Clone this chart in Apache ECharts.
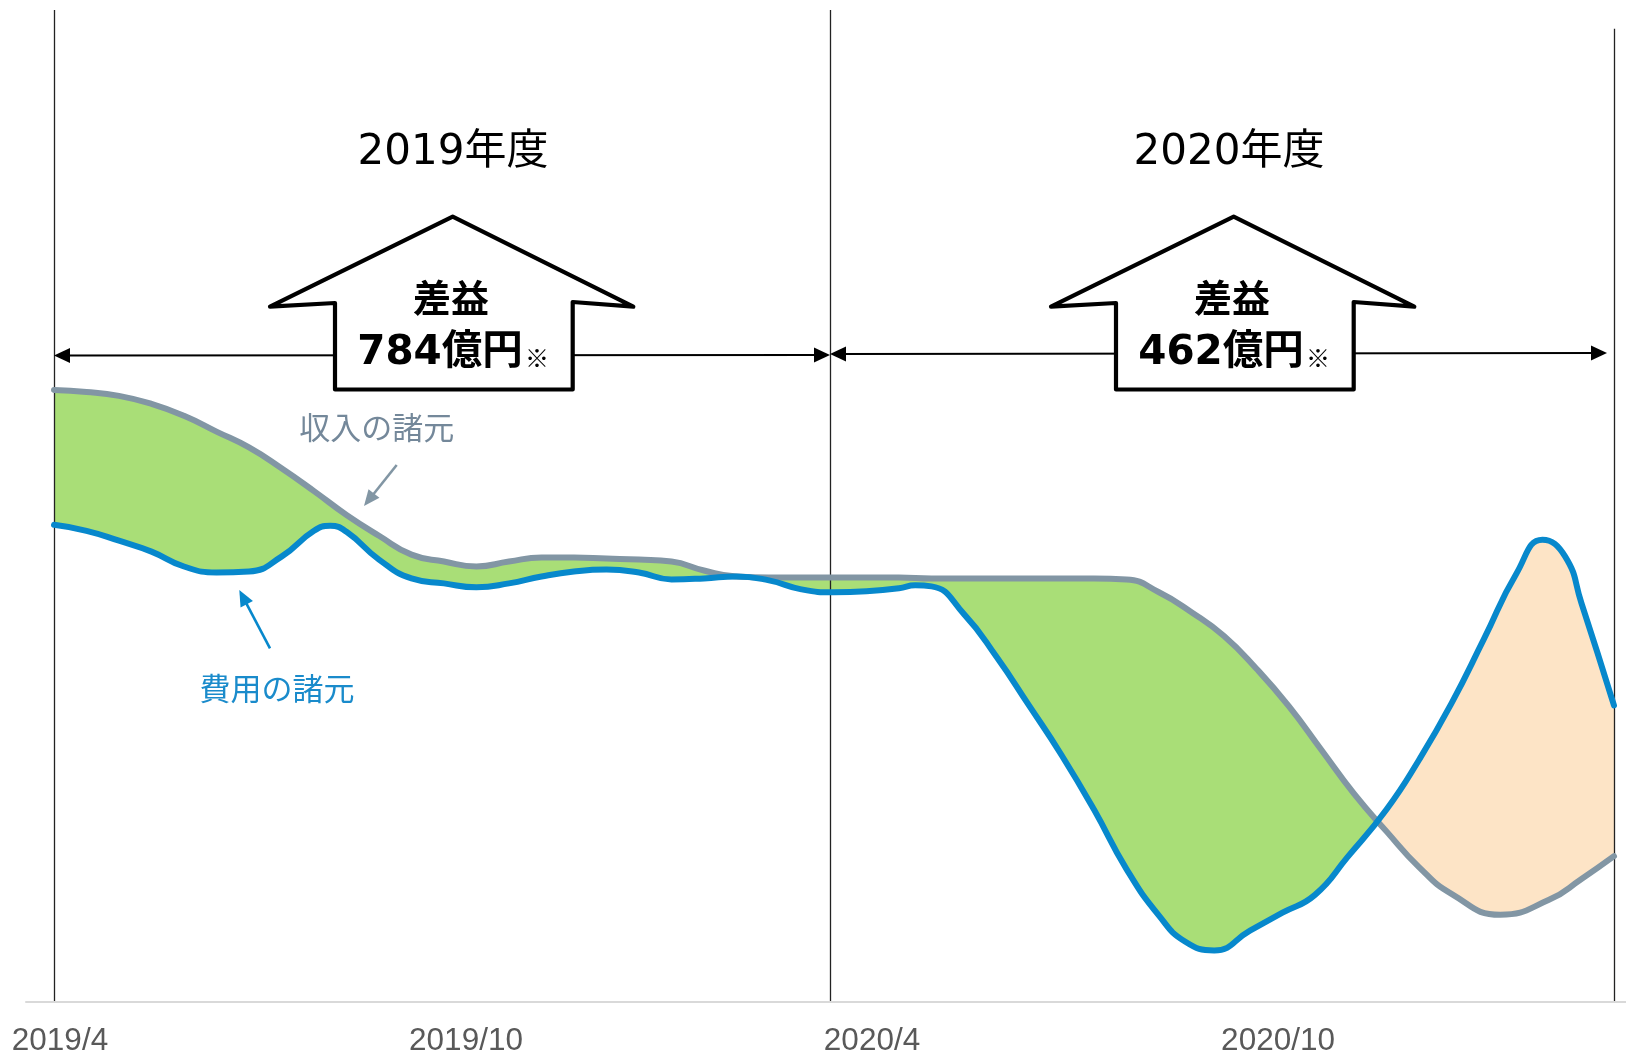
<!DOCTYPE html>
<html><head><meta charset="utf-8">
<script src="https://cdn.jsdelivr.net/npm/echarts@6/dist/echarts.min.js"></script>
<style>html,body{margin:0;padding:0;background:#fff}#c{width:1626px;height:1057px}</style>
</head><body><div id="c"></div>
<script>
// months since 2019/4 at which each curve was read
const revenueMonths = [0,0.5,1,1.5,2,2.5,3,3.5,4,4.5,5,5.5,6,6.5,7,7.5,8,8.5,9,9.5,10,10.5,11,11.5,12,
  12.5,13,13.5,14,14.5,15,15.5,16,16.5,17,17.5,18,18.5,19,19.5,20,20.5,21,21.5,22.25,23,23.5,24];
// 収入の諸元 (revenue assumption)
const revenue = [61.7,61.5,61.1,60.3,59.1,57.5,55.9,53.8,51.5,49.1,47.0,45.1,44.4,43.9,44.4,44.8,44.8,44.7,44.6,44.4,43.5,42.9,42.8,42.8,42.8,
  42.8,42.8,42.7,42.7,42.7,42.7,42.7,42.7,42.6,41.3,39.3,36.9,33.6,29.8,25.4,21.0,17.2,13.6,10.9,8.8,10.3,12.4,14.7];
const costMonths = [0,0.5,1,1.5,2,2.5,3,3.5,4,4.25,4.5,5,5.5,6,6.5,7,7.5,8,8.5,9,9.5,10,10.5,11,11.5,12,
  12.5,13,13.25,13.5,14,14.5,15,15.5,16,16.5,17,17.4,17.85,18.4,18.9,19.4,19.9,20.5,21,21.5,22,22.5,22.9,23.25,23.5,24];
// 費用の諸元 (cost assumption)
const cost = [48.1,47.5,46.5,45.4,43.9,43.3,43.4,44.9,47.5,48.0,47.4,44.6,42.7,42.2,41.8,42.2,42.9,43.4,43.6,43.3,42.6,42.7,42.9,42.5,41.6,41.3,
  41.4,41.7,42.0,41.9,39.1,34.8,29.9,24.9,19.4,13.4,8.7,6.1,5.2,7.2,9.0,10.8,14.6,19.4,24.4,30.1,36.6,43.2,46.6,44.9,40.2,29.9];
const tickLabels = ['2019/4','2019/10','2020/4','2020/10'];
const tickValues = [0,1,2,3];
const fiscalYears = ['2019年度','2020年度'];
const profitTitle = '差益';
const profitValues = ['784億円','462億円'];
const seriesNames = ['収入の諸元','費用の諸元'];
const yearBoundaries = [0,11.94,24];
const crossingMonth = 20.36;

const pairs = (ms, arr) => ms.map((m,i)=>[m, arr[i]]);

const GRAY='#8296a4', BLUE='#0788cc', GREEN='#a9de77', ORANGE='#fde4c6', WHITE='#ffffff', NONE='rgba(255,255,255,0)';

function arrowParts(x1,y1,x2,y2,color,w,hl,hw,both){
  const dx=x2-x1, dy=y2-y1, L=Math.hypot(dx,dy), ux=dx/L, uy=dy/L;
  const head=(tx,ty,sx,sy)=>{const bx=tx-sx*hl, by=ty-sy*hl;
    return {type:'polygon', z:10, shape:{points:[[tx,ty],[bx-sy*hw,by+sx*hw],[bx+sy*hw,by-sx*hw]]}, style:{fill:color}};};
  const sx1 = both ? x1+ux*hl*0.8 : x1, sy1 = both ? y1+uy*hl*0.8 : y1;
  const out=[{type:'line', z:10, shape:{x1:sx1,y1:sy1,x2:x2-ux*hl*0.8,y2:y2-uy*hl*0.8}, style:{stroke:color,lineWidth:w}}, head(x2,y2,ux,uy)];
  if(both) out.push(head(x1,y1,-ux,-uy));
  return out;
}
function house(dx){
  const p=[[452.7,216.7],[633.3,306.7],[572.7,302],[572.7,389.5],[335,389.5],[335,303],[270,306.7]];
  return {type:'polygon', z:20, shape:{points:p.map(q=>[q[0]+dx,q[1]])},
    style:{fill:'#fff', stroke:'#000', lineWidth:4.2, lineJoin:'round'}};
}
function txt(x,y,text,font,fill,z){
  return {type:'text', x, y, z:z||30, style:{text, font, fill, align:'center', verticalAlign:'middle'}};
}

const graphics = [];
graphics.push(...arrowParts(54,355.5,830,355,'#000',1.8,16,7.5,true));
graphics.push(...arrowParts(830,354,1607,353,'#000',1.8,16,7.5,true));
[0,781].forEach((dx,i)=>{
  graphics.push(house(dx));
  graphics.push(txt(451+dx,302,profitTitle,'bold 38px "DejaVu Sans","Noto Sans CJK JP"','#000'));
  graphics.push(txt(440+dx,353,profitValues[i],'bold 40.5px "DejaVu Sans","Noto Sans CJK JP"','#000'));
  graphics.push(txt(537+dx,358,'※','24px "Noto Sans CJK JP"','#000'));
});
graphics.push(txt(453,153,fiscalYears[0],'42px "DejaVu Sans","Noto Sans CJK JP"','#000'));
graphics.push(txt(1229,153,fiscalYears[1],'42px "DejaVu Sans","Noto Sans CJK JP"','#000'));
graphics.push(txt(376.7,427.5,seriesNames[0],'31px "Noto Sans CJK JP"','#74889a'));
graphics.push(txt(277,688,seriesNames[1],'31px "Noto Sans CJK JP"','#1a8bcb'));
graphics.push(...arrowParts(396.7,465,364,506,GRAY,2.6,16,7,false));
graphics.push(...arrowParts(270,648.3,239.3,590,BLUE,2.6,16,7,false));

const vLines = yearBoundaries.map((m,i)=>[{coord:[m, i===2 ? 98.1 : 100]},{coord:[m,0]}]);

// area-only series (layered by z); fill colours set after layout
const areaSeries = (name, ms, arr, z) => ({name, type:'line', smooth:true, showSymbol:false, z, silent:true,
  data:pairs(ms, arr), lineStyle:{width:0,opacity:0}, areaStyle:{opacity:1,color:NONE}});

const chart = echarts.init(document.getElementById('c'), null, {renderer:'canvas'});
chart.setOption({
  animation:false,
  backgroundColor:'#fff',
  grid:[{left:26,right:0,top:10,bottom:55},{left:26,right:0,top:10,bottom:55}],
  xAxis:[
    {gridIndex:0,type:'value',min:-0.4308,max:24.185,z:10,
      axisLine:{show:true,lineStyle:{color:'#d9d9d9',width:2}},axisTick:{show:false},axisLabel:{show:false},splitLine:{show:false}},
    {gridIndex:1,type:'value',min:-0.0837,max:3.857,
      axisLine:{show:false},axisTick:{show:false},splitLine:{show:false},
      axisLabel:{show:true,customValues:tickValues,margin:23,color:'#595959',fontSize:31.5,fontFamily:'"Liberation Sans", Arial, sans-serif',
        formatter:v=>tickLabels[Math.round(v)]||''}}
  ],
  yAxis:[
    {gridIndex:0,type:'value',min:0,max:100,show:false},
    {gridIndex:1,type:'value',min:0,max:100,show:false}
  ],
  series:[
    areaSeries('costFillOrange', costMonths, cost, 1),
    areaSeries('revenueFill', revenueMonths, revenue, 2),
    areaSeries('costFillMask', costMonths, cost, 3),
    {name:seriesNames[0],type:'line',smooth:true,showSymbol:false,z:7,
      data:pairs(revenueMonths, revenue),lineStyle:{color:GRAY,width:6,cap:'round'},itemStyle:{color:GRAY},silent:true,
      markLine:{silent:true,z:6,symbol:['none','none'],label:{show:false},
        lineStyle:{color:'#222',width:1.3,type:'solid'},data:vLines}},
    {name:seriesNames[1],type:'line',smooth:true,showSymbol:false,z:8,
      data:pairs(costMonths, cost),lineStyle:{color:BLUE,width:6,cap:'round'},itemStyle:{color:BLUE},silent:true}
  ],
  graphic:graphics
});
// split colours at the crossing of the two curves
const cx = chart.convertToPixel({xAxisIndex:0}, crossingMonth);
const W = chart.getWidth();
const off = Math.min(1, Math.max(0, cx / W));
const split = (a,b) => new echarts.graphic.LinearGradient(0,0,W,0,[
  {offset:0,color:a},{offset:off,color:a},{offset:off,color:b},{offset:1,color:b}],true);
chart.setOption({series:[
  {areaStyle:{opacity:1,color:split(NONE,ORANGE)}},
  {areaStyle:{opacity:1,color:split(GREEN,WHITE)}},
  {areaStyle:{opacity:1,color:split(WHITE,NONE)}},
  {},{}
]});
</script></body></html>
